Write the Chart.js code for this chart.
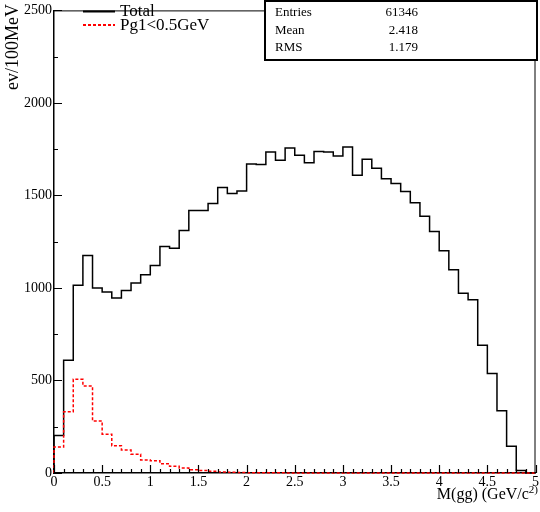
<!DOCTYPE html>
<html>
<head>
<meta charset="utf-8">
<script src="https://cdn.jsdelivr.net/npm/chart.js@4.4.1/dist/chart.umd.min.js"></script>
<style>
  html, body { margin: 0; padding: 0; background: #fff; }
  #wrap { width: 540px; height: 512px; }
</style>
</head>
<body>
<div id="wrap"><canvas id="histo" width="540" height="512"></canvas></div>
<script>
// 50 bins of 0.1 GeV between 0 and 5
const binWidth = 0.1;

const totalCounts = [
  203, 610, 1014, 1176, 1000, 978, 946, 986, 1027, 1072,
  1122, 1224, 1215, 1310, 1418, 1418, 1457, 1543, 1511, 1524,
  1670, 1667, 1735, 1690, 1756, 1717, 1676, 1738, 1735, 1713,
  1762, 1609, 1696, 1647, 1590, 1565, 1521, 1461, 1387, 1305,
  1201, 1099, 972, 936, 690, 538, 337, 145, 14, 0
];

const pg1Counts = [
  141, 331, 506, 470, 281, 210, 147, 124, 102, 70,
  66, 50, 36, 27, 18, 14, 9, 6, 4, 3,
  2, 2, 1, 1, 0, 0, 0, 0, 0, 0,
  0, 0, 0, 0, 0, 0, 0, 0, 0, 0,
  0, 0, 0, 0, 0, 0, 0, 0, 0, 0
];

const seriesNames = ['Total', 'Pg1<0.5GeV'];
const statLabels = ['Entries', 'Mean', 'RMS'];
const statValues = ['61346', '2.418', '1.179'];
const xTitle = 'M(gg) (GeV/c';
const xTitleSup = '2)';
const yTitle = 'ev/100MeV';

const serif = 'Liberation Serif';

// outline of a histogram: points at the low edge of each bin, closed down to zero at both ends
function histPoints(counts) {
  const pts = [{x: 0, y: 0}];
  counts.forEach((c, i) => pts.push({x: i * binWidth, y: c}));
  const end = counts.length * binWidth;
  pts.push({x: end, y: counts[counts.length - 1]});
  pts.push({x: end, y: 0});
  return pts;
}

// frame, inward ticks, titles, legend and stats box
const rootStyle = {
  id: 'rootStyle',
  afterDatasetsDraw(chart) {
    const {ctx, chartArea: a, scales: {x, y}} = chart;
    ctx.save();
    ctx.strokeStyle = '#000';

    ctx.lineWidth = 1;
    ctx.beginPath();
    ctx.moveTo(a.left, a.top + 0.5);
    ctx.lineTo(a.right - 0.5, a.top + 0.5);
    ctx.lineTo(a.right - 0.5, a.bottom);
    ctx.stroke();

    ctx.lineWidth = 1.2;
    ctx.beginPath();
    for (let i = 0; i <= 50; i++) {
      const px = Math.round(x.getPixelForValue(i * 0.1)) + 0.5;
      const len = i % 5 === 0 ? 8 : 4;
      ctx.moveTo(px, a.bottom);
      ctx.lineTo(px, a.bottom - len);
    }
    for (let i = 0; i <= 10; i++) {
      const py = Math.round(y.getPixelForValue(i * 250)) + 0.5;
      const len = i % 2 === 0 ? 8 : 4;
      ctx.moveTo(a.left, py);
      ctx.lineTo(a.left + len, py);
    }
    ctx.stroke();

    ctx.fillStyle = '#000';

    // x title with superscript
    ctx.font = '11px "' + serif + '"';
    const supW = ctx.measureText(xTitleSup).width;
    ctx.textAlign = 'right';
    ctx.textBaseline = 'alphabetic';
    ctx.fillText(xTitleSup, 538, 493);
    ctx.font = '16px "' + serif + '"';
    ctx.fillText(xTitle, 538 - supW, 499);

    // y title, rotated, ending at the top of the axis
    ctx.save();
    ctx.translate(13, 4);
    ctx.rotate(-Math.PI / 2);
    ctx.font = '18px "' + serif + '"';
    ctx.textAlign = 'right';
    ctx.textBaseline = 'middle';
    ctx.fillText(yTitle, 0, 0);
    ctx.restore();

    // legend
    const legendRows = [11.5, 25];
    chart.data.datasets.forEach((ds, i) => {
      const ly = legendRows[i];
      ctx.save();
      ctx.strokeStyle = ds.borderColor;
      ctx.lineWidth = 2;
      ctx.setLineDash(ds.borderDash || []);
      ctx.beginPath();
      ctx.moveTo(83, ly);
      ctx.lineTo(115, ly);
      ctx.stroke();
      ctx.restore();
      ctx.font = '17px "' + serif + '"';
      ctx.textAlign = 'left';
      ctx.textBaseline = 'middle';
      ctx.fillText(ds.label, 120, ly + 0.5);
    });

    // stats box
    ctx.fillStyle = '#fff';
    ctx.fillRect(265, 1, 272, 59);
    ctx.lineWidth = 2;
    ctx.strokeRect(265, 1, 272, 59);
    ctx.fillStyle = '#000';
    ctx.font = '13px "' + serif + '"';
    ctx.textBaseline = 'middle';
    const statRows = [13, 31, 48];
    statLabels.forEach((lab, i) => {
      ctx.textAlign = 'left';
      ctx.fillText(lab, 275, statRows[i]);
      ctx.textAlign = 'right';
      ctx.fillText(statValues[i], 418, statRows[i]);
    });

    ctx.restore();
  }
};

const config = {
  type: 'line',
  data: {
    datasets: [{
      label: seriesNames[0],
      data: histPoints(totalCounts),
      borderColor: '#000',
      borderWidth: 1.5,
      stepped: 'before',
      fill: false,
      pointRadius: 0,
      clip: false,
      order: 1
    }, {
      label: seriesNames[1],
      data: histPoints(pg1Counts),
      borderColor: '#ff0000',
      borderWidth: 1.5,
      borderDash: [3, 2],
      stepped: 'before',
      fill: false,
      pointRadius: 0,
      clip: false,
      order: 0
    }]
  },
  options: {
    responsive: false,
    animation: false,
    devicePixelRatio: 1,
    layout: { padding: { top: 6, right: 3, left: 0, bottom: 0 } },
    scales: {
      x: {
        type: 'linear',
        min: 0,
        max: 5,
        grid: { display: false, drawTicks: false },
        border: { display: true, color: '#000', width: 1.5 },
        ticks: {
          stepSize: 0.5,
          color: '#000',
          padding: 1,
          maxRotation: 0,
          autoSkip: false,
          font: { family: serif, size: 14 },
          callback: v => String(Math.round(v * 10) / 10)
        },
        afterFit: s => { s.height = 39; }
      },
      y: {
        type: 'linear',
        min: 0,
        max: 2500,
        grid: { display: false, drawTicks: false },
        border: { display: true, color: '#000', width: 1.5 },
        ticks: {
          stepSize: 500,
          color: '#000',
          padding: 2,
          font: { family: serif, size: 14 },
          callback: v => String(v)
        },
        afterFit: s => { s.width = 54; }
      }
    },
    plugins: {
      legend: { display: false },
      tooltip: { enabled: false }
    }
  },
  plugins: [rootStyle]
};

new Chart(document.getElementById('histo'), config);
</script>
</body>
</html>
